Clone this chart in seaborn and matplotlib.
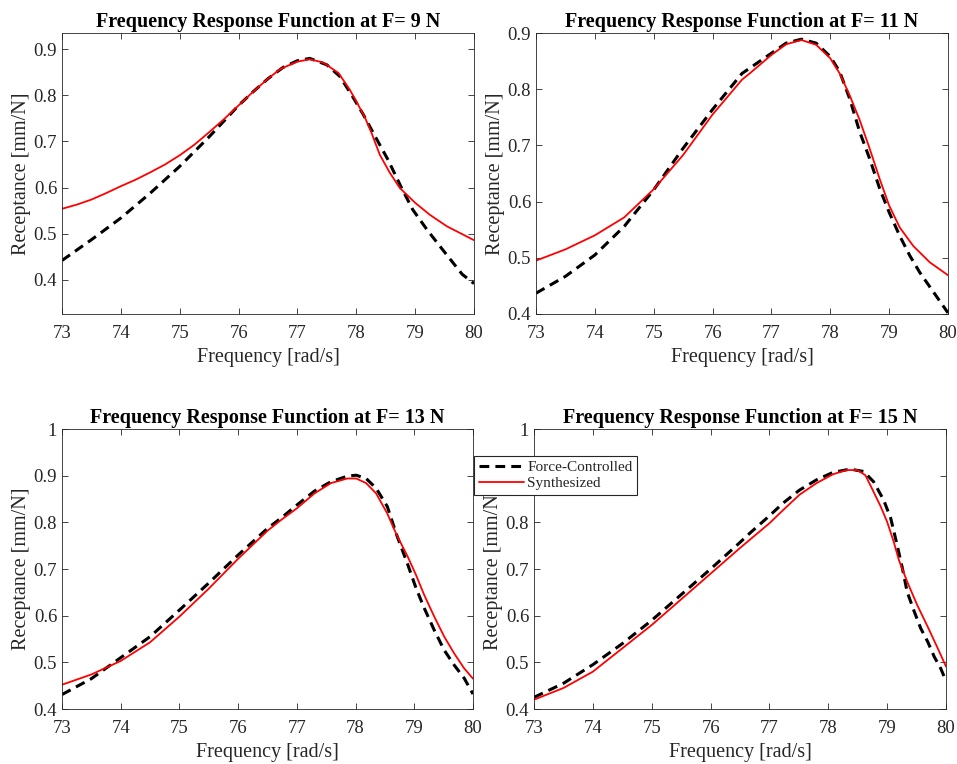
import numpy as np
import pandas as pd
import matplotlib
matplotlib.use("Agg")
import matplotlib.pyplot as plt
import seaborn as sns

# ---- data ----
forces = [9, 11, 13, 15]

f9_x_fc = [73, 73.5, 74, 74.5, 75, 75.5, 76, 76.25, 76.5, 76.75, 77, 77.21, 77.5, 77.72, 77.92, 78.12, 78.32, 78.54, 78.77, 78.96, 79.2, 79.42, 79.6, 79.8, 80]
f9_y_fc = [0.442, 0.487, 0.534, 0.588, 0.646, 0.710, 0.778, 0.808, 0.836, 0.860, 0.875, 0.880, 0.866, 0.841, 0.801, 0.758, 0.711, 0.660, 0.599, 0.552, 0.509, 0.473, 0.444, 0.412, 0.392]
f9_x_sy = [73, 73.25, 73.5, 73.75, 74, 74.25, 74.5, 74.75, 75, 75.25, 75.5, 75.75, 76, 76.25, 76.5, 76.71, 77, 77.21, 77.44, 77.7, 77.89, 78, 78.15, 78.26, 78.4, 78.57, 78.74, 79, 79.25, 79.54, 80]
f9_y_sy = [0.554, 0.563, 0.574, 0.588, 0.603, 0.617, 0.633, 0.650, 0.670, 0.693, 0.720, 0.748, 0.778, 0.808, 0.836, 0.857, 0.873, 0.878, 0.871, 0.848, 0.812, 0.787, 0.751, 0.718, 0.671, 0.632, 0.599, 0.567, 0.541, 0.516, 0.486]

f11_x_fc = [73, 73.5, 74, 74.5, 75, 75.5, 76, 76.5, 77, 77.25, 77.51, 77.76, 78, 78.16, 78.33, 78.5, 78.67, 78.84, 79, 79.18, 79.35, 79.52, 79.72, 79.92, 80]
f11_y_fc = [0.437, 0.467, 0.505, 0.556, 0.621, 0.695, 0.764, 0.828, 0.864, 0.882, 0.889, 0.882, 0.858, 0.831, 0.783, 0.724, 0.676, 0.623, 0.581, 0.539, 0.504, 0.474, 0.444, 0.414, 0.402]
f11_x_sy = [73, 73.5, 74, 74.5, 75, 75.5, 76, 76.5, 76.63, 77, 77.25, 77.51, 77.76, 78, 78.16, 78.33, 78.5, 78.67, 78.84, 79, 79.18, 79.41, 79.69, 80]
f11_y_sy = [0.495, 0.515, 0.540, 0.572, 0.622, 0.683, 0.755, 0.817, 0.828, 0.861, 0.880, 0.8875, 0.879, 0.855, 0.828, 0.789, 0.745, 0.694, 0.640, 0.593, 0.554, 0.521, 0.492, 0.469]

f13_x_fc = [73, 73.5, 74, 74.5, 75, 75.5, 76, 76.5, 76.73, 77, 77.3, 77.58, 77.86, 78.01, 78.18, 78.35, 78.54, 78.7, 78.89, 79.03, 79.17, 79.34, 79.51, 79.68, 79.85, 80]
f13_y_fc = [0.431, 0.465, 0.510, 0.555, 0.612, 0.670, 0.730, 0.787, 0.809, 0.837, 0.867, 0.887, 0.899, 0.901, 0.894, 0.873, 0.834, 0.773, 0.709, 0.659, 0.616, 0.569, 0.526, 0.494, 0.466, 0.432]
f13_x_sy = [73, 73.5, 74, 74.5, 75, 75.5, 76, 76.5, 76.73, 77, 77.3, 77.58, 77.86, 78.01, 78.18, 78.35, 78.54, 78.7, 78.89, 79.03, 79.17, 79.34, 79.51, 79.68, 79.85, 80]
f13_y_sy = [0.452, 0.474, 0.503, 0.543, 0.598, 0.658, 0.722, 0.782, 0.805, 0.830, 0.862, 0.884, 0.894, 0.894, 0.884, 0.862, 0.819, 0.773, 0.726, 0.687, 0.644, 0.598, 0.555, 0.519, 0.487, 0.465]

f15_x_fc = [73, 73.5, 74, 74.5, 75, 75.5, 76, 76.5, 76.66, 77, 77.23, 77.51, 77.8, 78.08, 78.37, 78.6, 78.77, 78.94, 79.06, 79.17, 79.26, 79.34, 79.46, 79.57, 79.69, 79.8, 79.91, 80]
f15_y_fc = [0.425, 0.455, 0.495, 0.540, 0.590, 0.645, 0.700, 0.757, 0.776, 0.814, 0.841, 0.869, 0.891, 0.907, 0.914, 0.909, 0.887, 0.848, 0.809, 0.751, 0.701, 0.651, 0.609, 0.573, 0.544, 0.512, 0.487, 0.460]
f15_x_sy = [73, 73.5, 74, 74.5, 75, 75.5, 76, 76.5, 76.66, 77, 77.23, 77.51, 77.8, 78.08, 78.31, 78.49, 78.63, 78.74, 78.89, 79, 79.11, 79.2, 79.34, 79.51, 79.69, 79.86, 80]
f15_y_sy = [0.420, 0.445, 0.480, 0.530, 0.580, 0.635, 0.690, 0.745, 0.762, 0.798, 0.826, 0.859, 0.884, 0.903, 0.912, 0.912, 0.901, 0.873, 0.834, 0.801, 0.759, 0.719, 0.673, 0.623, 0.576, 0.530, 0.491]

series = {
    9: (f9_x_fc, f9_y_fc, f9_x_sy, f9_y_sy),
    11: (f11_x_fc, f11_y_fc, f11_x_sy, f11_y_sy),
    13: (f13_x_fc, f13_y_fc, f13_x_sy, f13_y_sy),
    15: (f15_x_fc, f15_y_fc, f15_x_sy, f15_y_sy),
}
ylims = {9: (0.326, 0.935), 11: (0.4, 0.9), 13: (0.4, 1.0), 15: (0.4, 1.0)}
yticks = {9: [0.4, 0.5, 0.6, 0.7, 0.8, 0.9], 11: [0.4, 0.5, 0.6, 0.7, 0.8, 0.9],
          13: [0.4, 0.5, 0.6, 0.7, 0.8, 0.9, 1.0], 15: [0.4, 0.5, 0.6, 0.7, 0.8, 0.9, 1.0]}
yticklabels = {9: ["0.4", "0.5", "0.6", "0.7", "0.8", "0.9"], 11: ["0.4", "0.5", "0.6", "0.7", "0.8", "0.9"],
               13: ["0.4", "0.5", "0.6", "0.7", "0.8", "0.9", "1"], 15: ["0.4", "0.5", "0.6", "0.7", "0.8", "0.9", "1"]}
xticks = [73, 74, 75, 76, 77, 78, 79, 80]

# ---- style ----
sns.set_style("ticks")
plt.rcParams["font.family"] = ["Liberation Serif", "DejaVu Serif"]
plt.rcParams["xtick.direction"] = "in"
plt.rcParams["ytick.direction"] = "in"

W, H = 957, 764
fig = plt.figure(figsize=(W / 100, H / 100), dpi=100)

rects = {
    9: (62, 33, 474, 314),
    11: (536, 33, 948, 314),
    13: (62, 429, 473, 709),
    15: (534, 429, 946, 709),
}

tickcol = "#262626"
handles = None
for F in forces:
    x0, y0, x1, y1 = rects[F]
    ax = fig.add_axes([x0 / W, 1 - y1 / H, (x1 - x0) / W, (y1 - y0) / H])
    xf, yf, xs, ys = series[F]
    df_fc = pd.DataFrame({"x": xf, "y": yf})
    df_sy = pd.DataFrame({"x": xs, "y": ys})
    sns.lineplot(data=df_fc, x="x", y="y", ax=ax, color="black", linewidth=2.2,
                 label="Force-Controlled", legend=False)
    ax.lines[-1].set_dashes([3.2, 2.0])
    ax.lines[-1].set_solid_joinstyle("round")
    sns.lineplot(data=df_sy, x="x", y="y", ax=ax, color="#ff0000", linewidth=1.3,
                 label="Synthesized", legend=False)
    ax.lines[-1].set_solid_joinstyle("round")
    ax.set_xlim(73, 80)
    ax.set_ylim(*ylims[F])
    ax.set_xticks(xticks)
    ax.set_xticklabels([str(t) for t in xticks])
    ax.set_yticks(yticks[F])
    ax.set_yticklabels(yticklabels[F])
    ax.tick_params(axis="both", which="both", direction="in", top=True, right=True,
                   labelsize=13.5, colors=tickcol, length=4, width=0.6)
    ax.tick_params(axis="x", pad=8)
    ax.tick_params(axis="y", pad=3.5)
    for sp in ax.spines.values():
        sp.set_color(tickcol)
        sp.set_linewidth(0.6)
    ax.set_xlabel("Frequency [rad/s]", fontsize=14.5, color=tickcol, labelpad=4)
    ax.set_ylabel("Receptance [mm/N]", fontsize=14.5, color=tickcol, labelpad=2)
    ax.set_title(f"Frequency Response Function at F= {F} N", fontsize=14.5,
                 fontweight="bold", color="black", pad=4)
    if handles is None:
        handles, labels = ax.get_legend_handles_labels()

leg = fig.legend(handles, labels, loc="upper left", bbox_to_anchor=(474 / W, 1 - 456 / H),
                 bbox_transform=fig.transFigure, frameon=True, fancybox=False,
                 edgecolor="#262626", framealpha=1, fontsize=11, borderaxespad=0,
                 handlelength=3.0, handletextpad=0.2, borderpad=0.3, labelspacing=0.15)
leg.get_frame().set_linewidth(0.8)

fig.savefig("out.png", dpi=100)
